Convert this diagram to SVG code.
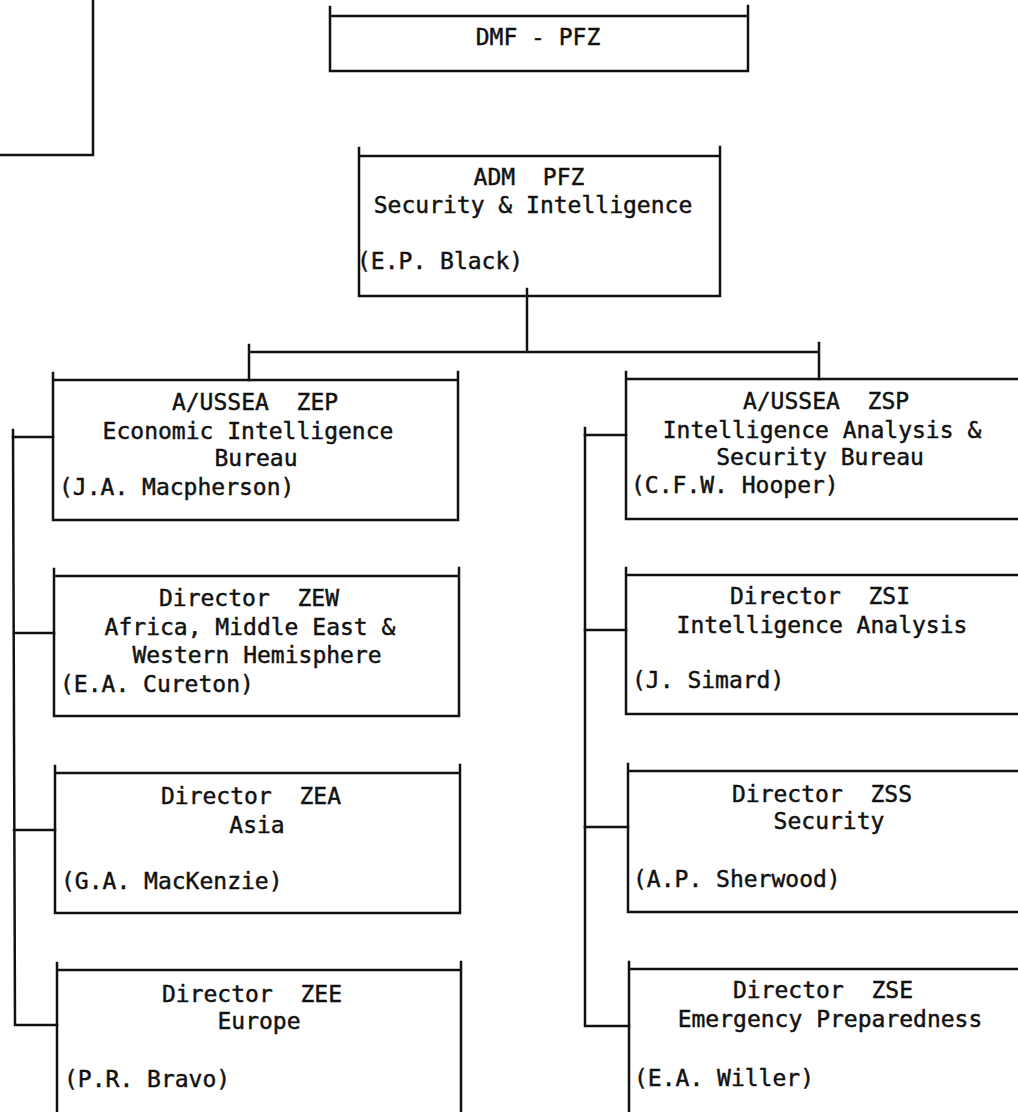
<svg xmlns="http://www.w3.org/2000/svg" width="1018" height="1112" viewBox="0 0 1018 1112">
<style>
.box{fill:none;stroke:#111;stroke-width:2.5;stroke-linecap:square}
.ln{fill:none;stroke:#111;stroke-width:2.5;stroke-linecap:square}
text{font-family:"DejaVu Sans Mono","Liberation Mono",monospace;font-size:23px;fill:#111;stroke:#111;stroke-width:0.45;white-space:pre}
.c{text-anchor:middle}
</style>
<rect width="1018" height="1112" fill="#fff"/>
<g id="partial-box">
<path class="box" d="M93,0 V155 H0"/>
</g>
<g id="dmf">
<path class="box" d="M330,7 V71 H748 V6 M330,16 H748"/>
<text class="c" x="538" y="45" xml:space="preserve">DMF - PFZ</text>
</g>
<g id="adm">
<path class="box" d="M359,148 V296 H720 V147 M359,156 H720"/>
<text class="c" x="529" y="185" xml:space="preserve">ADM  PFZ</text>
<text class="c" x="533" y="213" xml:space="preserve">Security &amp; Intelligence</text>
<text x="357" y="269" xml:space="preserve">(E.P. Black)</text>
</g>
<g id="zep">
<path class="box" d="M53,373 V520 H458 V372 M53,380 H458"/>
<text class="c" x="255" y="410" xml:space="preserve">A/USSEA  ZEP</text>
<text class="c" x="248" y="439" xml:space="preserve">Economic Intelligence</text>
<text class="c" x="256" y="466" xml:space="preserve">Bureau</text>
<text x="59" y="495" xml:space="preserve">(J.A. Macpherson)</text>
</g>
<g id="zew">
<path class="box" d="M54,569 V716 H459 V568 M54,576 H459"/>
<text class="c" x="249" y="606" xml:space="preserve">Director  ZEW</text>
<text class="c" x="250" y="635" xml:space="preserve">Africa, Middle East &amp;</text>
<text class="c" x="257" y="663" xml:space="preserve">Western Hemisphere</text>
<text x="60" y="692" xml:space="preserve">(E.A. Cureton)</text>
</g>
<g id="zea">
<path class="box" d="M55,766 V913 H460 V765 M55,773 H460"/>
<text class="c" x="251" y="804" xml:space="preserve">Director  ZEA</text>
<text class="c" x="257" y="833" xml:space="preserve">Asia</text>
<text x="61" y="889" xml:space="preserve">(G.A. MacKenzie)</text>
</g>
<g id="zee">
<path class="box" d="M57,963 V1112 M461,1112 V962 M57,970 H461"/>
<text class="c" x="252" y="1002" xml:space="preserve">Director  ZEE</text>
<text class="c" x="259" y="1029" xml:space="preserve">Europe</text>
<text x="64" y="1087" xml:space="preserve">(P.R. Bravo)</text>
</g>
<g id="zsp">
<path class="box" d="M626,372 V519 H1018 M626,379 H1018"/>
<text class="c" x="826" y="409" xml:space="preserve">A/USSEA  ZSP</text>
<text class="c" x="822" y="438" xml:space="preserve">Intelligence Analysis &amp;</text>
<text class="c" x="820" y="465" xml:space="preserve">Security Bureau</text>
<text x="631" y="493" xml:space="preserve">(C.F.W. Hooper)</text>
</g>
<g id="zsi">
<path class="box" d="M626,568 V714 H1018 M626,575 H1018"/>
<text class="c" x="820" y="604" xml:space="preserve">Director  ZSI</text>
<text class="c" x="822" y="633" xml:space="preserve">Intelligence Analysis</text>
<text x="632" y="688" xml:space="preserve">(J. Simard)</text>
</g>
<g id="zss">
<path class="box" d="M628,764 V912 H1018 M628,771 H1018"/>
<text class="c" x="822" y="802" xml:space="preserve">Director  ZSS</text>
<text class="c" x="829" y="829" xml:space="preserve">Security</text>
<text x="633" y="887" xml:space="preserve">(A.P. Sherwood)</text>
</g>
<g id="zse">
<path class="box" d="M629,962 V1112 M629,969 H1018"/>
<text class="c" x="823" y="998" xml:space="preserve">Director  ZSE</text>
<text class="c" x="830" y="1027" xml:space="preserve">Emergency Preparedness</text>
<text x="634" y="1086" xml:space="preserve">(E.A. Willer)</text>
</g>
<g id="connectors">
<path class="ln" d="M527,289 V351"/>
<path class="ln" d="M249,345 V380 M249,352 H819 M819,343 V379"/>
<path class="ln" d="M13,430 L15,1025 H57"/>
<path class="ln" d="M13,437 H53 M14,633 H54 M14,830 H55"/>
<path class="ln" d="M585,428 V1026 H629"/>
<path class="ln" d="M585,435 H626 M585,630 H626 M585,827 H628"/>
</g>
</svg>
